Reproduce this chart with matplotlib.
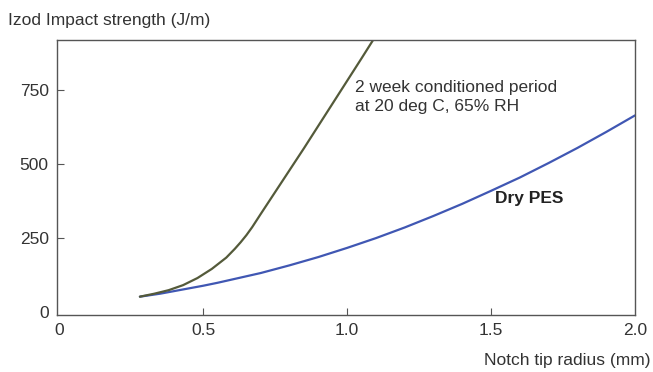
import numpy as np
import matplotlib
matplotlib.use('Agg')
import matplotlib.pyplot as plt

# notch tip radius (mm) and Izod impact strength (J/m)
# conditioned 2 weeks at 20 C / 65% RH
r_cond = [0.28, 0.33, 0.38, 0.43, 0.48, 0.53, 0.58, 0.61, 0.63, 0.65,
          0.67, 0.70, 0.75, 0.80, 0.85, 0.90, 0.95, 1.00, 1.05, 1.10]
izod_cond = [52, 62, 74, 91, 115, 146, 184, 214, 236, 260,
             287, 332, 406, 480, 554, 630, 706, 782, 858, 935]

# dry PES
r_dry = [0.28, 0.35, 0.40, 0.45, 0.50, 0.55, 0.60, 0.70, 0.80, 0.90, 1.00,
         1.10, 1.20, 1.30, 1.40, 1.50, 1.60, 1.70, 1.80, 1.90, 2.00]
izod_dry = [52, 62, 71, 80, 89, 99, 110, 132, 158, 186, 217,
            250, 286, 325, 366, 410, 455, 504, 555, 609, 665]

xticks = [0, 0.5, 1.0, 1.5, 2.0]
xtick_labels = ['0', '0.5', '1.0', '1.5', '2.0']
yticks = [0, 250, 500, 750]

plt.rcParams['font.family'] = ['Liberation Sans', 'DejaVu Sans']
txt = '#333333'

fig = plt.figure(figsize=(6.53, 3.72), dpi=100)
ax = fig.add_axes([57/653, 57/372, 578/653, 275/372])

ax.plot(r_dry, izod_dry, color='#4057b3', lw=1.6,
        solid_capstyle='round', solid_joinstyle='round')
ax.plot(r_cond, izod_cond, color='#545a3a', lw=1.6,
        solid_capstyle='round', solid_joinstyle='round')

ax.set_xlim(-0.008, 2.0)
ax.set_ylim(-10, 920)
ax.set_xticks(xticks)
ax.set_xticklabels(xtick_labels)
ax.set_yticks(yticks)
ax.tick_params(direction='in', length=5, width=0.8, color='#555555',
               labelsize=12.5, labelcolor=txt, pad=6)
# no tick marks on the corners
for t in [ax.xaxis.get_major_ticks()[0], ax.xaxis.get_major_ticks()[-1],
          ax.yaxis.get_major_ticks()[0]]:
    t.tick1line.set_visible(False)
for s in ax.spines.values():
    s.set_color('#555555')
    s.set_linewidth(1.0)

ax.text(1.028, 785, '2 week conditioned period\nat 20 deg C, 65% RH',
        fontsize=12.5, color=txt, va='top', ha='left', linespacing=1.35)
ax.text(1.514, 385, 'Dry PES', fontsize=12.5, fontweight='bold',
        color='#222222', va='center', ha='left')

fig.text(8/653, 1 - 20/372, 'Izod Impact strength (J/m)', fontsize=12.5,
         color=txt, va='center', ha='left')
fig.text(651/653, 1 - 360/372, 'Notch tip radius (mm)', fontsize=12.5,
         color=txt, va='center', ha='right')

fig.savefig('out.png', dpi=100)
